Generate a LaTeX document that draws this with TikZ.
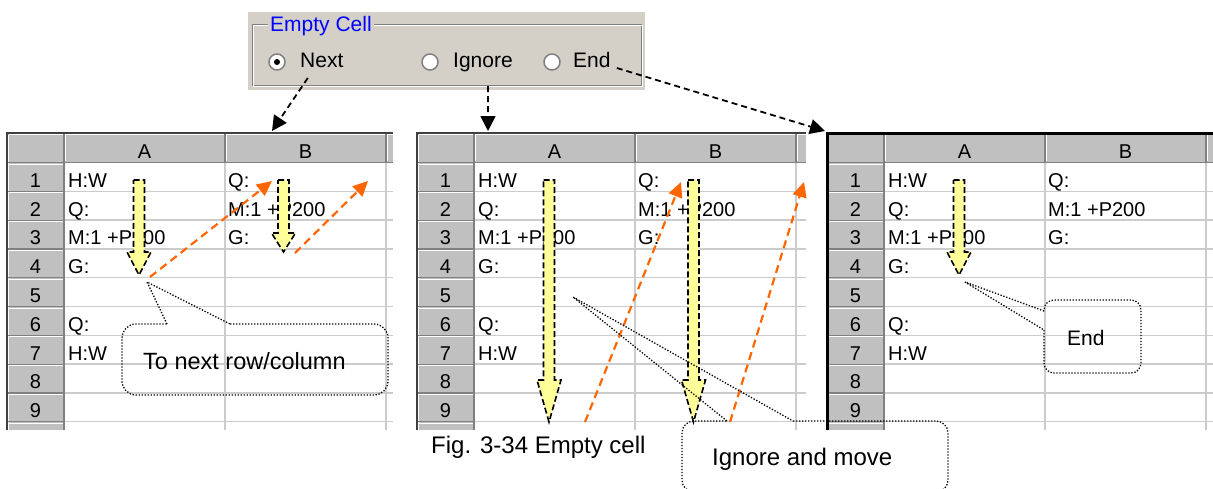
\documentclass[tikz,border=0pt]{standalone}
\usepackage{fontspec}
\setmainfont{Liberation Sans}
\usetikzlibrary{arrows.meta,calc}
\definecolor{panelgray}{HTML}{D4D0C8}
\definecolor{hdrgray}{HTML}{C0C0C0}
\definecolor{edgegray}{HTML}{808080}
\definecolor{gridgray}{HTML}{CCCCCC}
\definecolor{framegray}{HTML}{404040}
\definecolor{paleyellow}{HTML}{FFFF99}
\definecolor{jumporange}{HTML}{FF6600}
\definecolor{titleblue}{HTML}{0000FF}
\tikzset{
  celltext/.style={font=\fontsize{20}{20}\selectfont, inner sep=0pt, anchor=base west},
  hdrtext/.style={font=\fontsize{20}{20}\selectfont, inner sep=0pt, anchor=base},
  optlabel/.style={font=\fontsize{21}{21}\selectfont, inner sep=0pt, anchor=base west},
  notetext/.style={font=\fontsize{23.5}{24}\selectfont, inner sep=0pt, anchor=base west},
  radiobtn/.style={circle, draw=edgegray, line width=1.5pt, fill=white, minimum size=16pt, inner sep=0pt},
  gridline/.style={draw=gridgray, line width=1.5pt},
  hdredge/.style={draw=edgegray, line width=1.2pt},
  hdrlight/.style={draw=white, line width=1pt},
  sheetframe/.style={draw=framegray, line width=2.5pt},
  optarrow/.style={-{Triangle[length=15pt,width=15pt]}, line width=1.8pt, dash pattern=on 6pt off 4pt},
  jumparrow/.style={-{Triangle[length=15pt,width=14pt]}, draw=jumporange, line width=2.2pt, dash pattern=on 8pt off 5pt},
  blockarrow/.style={fill=paleyellow, draw=black, line width=1.6pt, dash pattern=on 6pt off 3pt},
  noteline/.style={draw=black, line width=1.3pt, dash pattern=on 1.3pt off 1.7pt}
}
\newcommand{\drawsheet}[4]{%
  \begin{scope}[shift={(#1,0)}]
    \clip (-3,130) rectangle (#2,430);
    \fill[white] (0,133) rectangle (#2,430);
    \fill[hdrgray] (0,133) rectangle (#2,162.5);
    \fill[hdrgray] (0,133) rectangle (57,430);
    \foreach \gx in {218,379}
      \draw[gridline] (\gx,162.5) -- (\gx,430);
    \foreach \rowno in {1,...,9}
      \draw[gridline] (57,{162.5+28.8*\rowno}) -- (#2,{162.5+28.8*\rowno});
    \draw[hdrlight] (1.5,134.5) -- (#2,134.5);
    \draw[hdrlight] (1.5,134.5) -- (1.5,430);
    \foreach \gx in {57,218,379} {
      \draw[hdredge] (\gx,133) -- (\gx,162.5);
      \draw[hdrlight] ({\gx+1.5},134.5) -- ({\gx+1.5},161);
    }
    \draw[hdredge] (0,162.5) -- (#2,162.5);
    \draw[hdrlight] (1.5,164) -- (56,164);
    \foreach \rowno in {1,...,9} {
      \draw[hdredge] (0,{162.5+28.8*\rowno}) -- (57,{162.5+28.8*\rowno});
      \draw[hdrlight] (1.5,{164+28.8*\rowno}) -- (56,{164+28.8*\rowno});
    }
    \draw[hdredge] (57,162.5) -- (57,430);
    \draw[sheetframe, #4] (0,430) -- (0,133) -- (#2,133);
    \node[hdrtext] (#3-ha) at (137.5,158.5) {A};
    \node[hdrtext] (#3-hb) at (298.5,158.5) {B};
    \foreach \rowno in {1,...,9}
      \node[hdrtext] (#3-n\rowno) at (28.5,{158.5+28.8*\rowno}) {\rowno};
    \foreach \rowno/\celltxt in {1/H:W,2/Q:,3/M:1 +P200,4/G:,6/Q:,7/H:W}
      \node[celltext] (#3-a\rowno) at (61,{158.5+28.8*\rowno}) {\celltxt};
    \foreach \rowno/\celltxt in {1/Q:,2/M:1 +P200,3/G:}
      \node[celltext] (#3-b\rowno) at (221,{158.5+28.8*\rowno}) {\celltxt};
  \end{scope}}
\newcommand{\downblock}[4]{%
  \filldraw[blockarrow] ({#1-5.5},#2) -- ({#1+5.5},#2) -- ({#1+5.5},#3) -- ({#1+12},#3)
    -- (#1,#4) -- ({#1-12},#3) -- ({#1-5.5},#3) -- cycle;}

\begin{document}
\begin{tikzpicture}[x=1pt,y=-1pt]
\useasboundingbox (0,0) rectangle (1213,488);
\fill[white] (0,0) rectangle (1213,488);

\fill[panelgray] (248,12) rectangle (645,90);
\draw[edgegray, line width=1pt] (252,24) rectangle (641,85);
\draw[white, line width=1pt] (253,25) rectangle (642,86);
\node[optlabel, text=titleblue, fill=panelgray, inner xsep=2pt] (grouptitle) at (268,31.5) {Empty Cell};
\node[radiobtn] (nextradio) at (277,62) {};
\fill (nextradio) circle (3);
\node[radiobtn] (ignoreradio) at (430,62) {};
\node[radiobtn] (endradio) at (552,62) {};
\node[optlabel] (nextopt) at (300,67) {Next};
\node[optlabel] (ignoreopt) at (453,67) {Ignore};
\node[optlabel] (endopt) at (573,67) {End};

\drawsheet{7}{386}{left}{}
\drawsheet{417}{389}{mid}{}
\drawsheet{827}{386}{right}{draw=black, line width=3pt}

\downblock{139}{180}{252}{275}
\downblock{283.5}{180}{233}{252}
\downblock{549}{180}{380}{422}
\downblock{693.5}{180}{380}{422}
\downblock{959}{180}{252}{275}

\coordinate (leftjumpa) at (150,277);
\coordinate (leftjumpb) at (272,181);
\coordinate (leftjumpc) at (295,253);
\coordinate (leftjumpd) at (368,181);
\coordinate (midjumpa) at (585,422);
\coordinate (midjumpb) at (681,182);
\coordinate (midjumpc) at (730,422);
\coordinate (midjumpd) at (804,182);
\draw[jumparrow] (leftjumpa) -- (leftjumpb);
\draw[jumparrow] (leftjumpc) -- (leftjumpd);
\draw[jumparrow] (midjumpa) -- (midjumpb);
\draw[jumparrow] (midjumpc) -- (midjumpd);

\coordinate (nexttip) at (147,282);
\coordinate (ignoretip) at (573,297);
\coordinate (endtip) at (965,282);
\draw[noteline, rounded corners=14pt] (230,324) -- (388,324) -- (388,395) -- (122,395) -- (122,324) -- (167,324);
\draw[noteline] (167,324) -- (nexttip) -- (230,324);
\draw[noteline, rounded corners=12pt] (793,421) -- (948,421) -- (948,492) -- (682,492) -- (682,421) -- (727,421);
\draw[noteline] (727,421) -- (ignoretip) -- (793,421);
\draw[noteline, rounded corners=10pt] (1044,330) -- (1044,373) -- (1141,373) -- (1141,300) -- (1044,300) -- (1044,311);
\draw[noteline] (1044,311) -- (endtip) -- (1044,330);
\node[notetext] (nextnote) at (143,369) {To next row/column};
\node[notetext, font=\fontsize{21}{21}\selectfont] (endnote) at (1067,345) {End};
\node[notetext, font=\fontsize{24}{24}\selectfont] (ignorenote) at (712,465) {Ignore and move};
\node[notetext, font=\fontsize{24}{24}\selectfont] (caption) at (431,453) {Fig. 3-34 Empty cell};

\coordinate (nextdrop) at (272,131);
\coordinate (ignoredrop) at (488,131);
\coordinate (enddrop) at (825,131);
\draw[optarrow] ([xshift=-14pt,yshift=-11pt]nextopt.base) -- (nextdrop);
\draw[optarrow] ([xshift=5pt,yshift=-19pt]ignoreopt.base) -- (ignoredrop);
\draw[optarrow] ([xshift=6pt,yshift=-1pt]endopt.base east) -- (enddrop);
\end{tikzpicture}
\end{document}
